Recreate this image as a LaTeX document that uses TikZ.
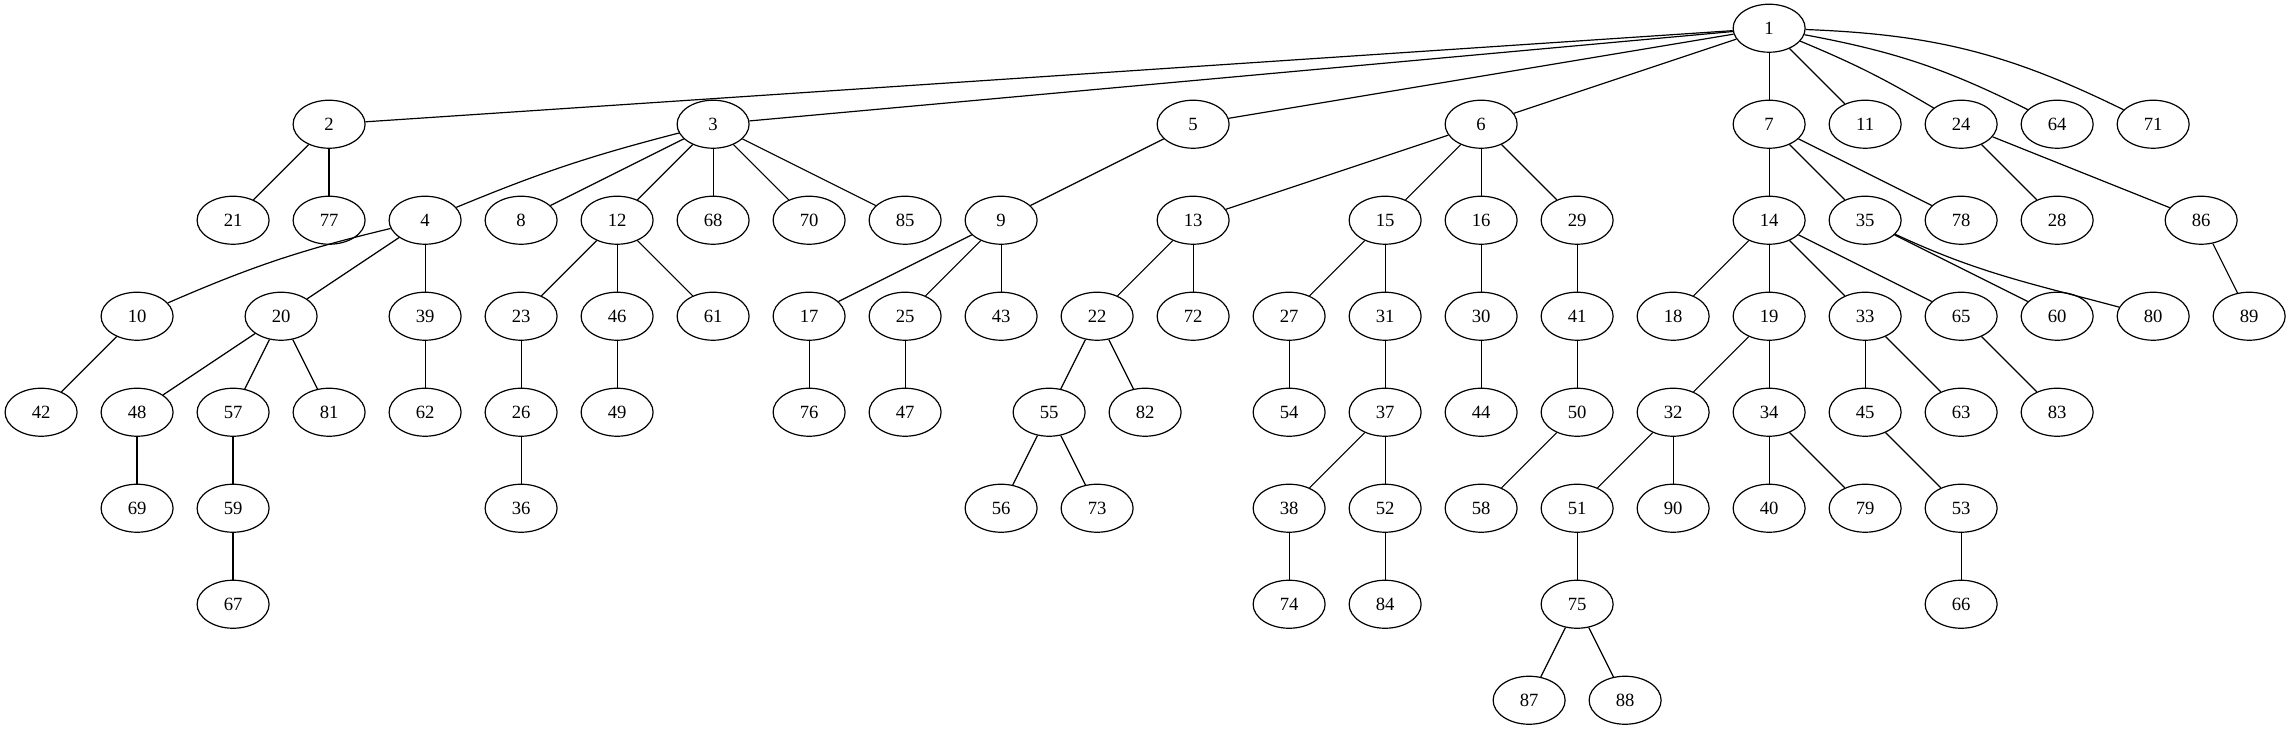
\documentclass[tikz,border=0pt]{standalone}
\usepackage{fontspec}
\setmainfont{Liberation Serif}
\usetikzlibrary{shapes.geometric}

\begin{document}
\begin{tikzpicture}[
  x=72pt, y=-72pt,
  every node/.style={inner sep=1pt, font=\fontsize{14pt}{16pt}\selectfont},
  vtx/.style={ellipse, draw, line width=0.9pt, minimum width=54pt, minimum height=36pt, inner sep=0pt},
  link/.style={draw, line width=0.9pt}]

  \useasboundingbox (-0.428,-0.294) rectangle (23.436,7.319);

  % ---- vertices -----------------------------------------------------------
  % rank 0
  \node[vtx] (n1)  at (18,0)   {1};

  % rank 1
  \node[vtx] (n2)  at (3,1)    {2};
  \node[vtx] (n3)  at (7,1)    {3};
  \node[vtx] (n5)  at (12,1)   {5};
  \node[vtx] (n6)  at (15,1)   {6};
  \node[vtx] (n7)  at (18,1)   {7};
  \node[vtx] (n11) at (19,1)   {11};
  \node[vtx] (n24) at (20,1)   {24};
  \node[vtx] (n64) at (21,1)   {64};
  \node[vtx] (n71) at (22,1)   {71};

  % rank 2
  \node[vtx] (n21) at (2,2)    {21};
  \node[vtx] (n77) at (3,2)    {77};
  \node[vtx] (n4)  at (4,2)    {4};
  \node[vtx] (n8)  at (5,2)    {8};
  \node[vtx] (n12) at (6,2)    {12};
  \node[vtx] (n68) at (7,2)    {68};
  \node[vtx] (n70) at (8,2)    {70};
  \node[vtx] (n85) at (9,2)    {85};
  \node[vtx] (n9)  at (10,2)   {9};
  \node[vtx] (n13) at (12,2)   {13};
  \node[vtx] (n15) at (14,2)   {15};
  \node[vtx] (n16) at (15,2)   {16};
  \node[vtx] (n29) at (16,2)   {29};
  \node[vtx] (n14) at (18,2)   {14};
  \node[vtx] (n35) at (19,2)   {35};
  \node[vtx] (n78) at (20,2)   {78};
  \node[vtx] (n28) at (21,2)   {28};
  \node[vtx] (n86) at (22.5,2) {86};

  % rank 3
  \node[vtx] (n10) at (1,3)    {10};
  \node[vtx] (n20) at (2.5,3)  {20};
  \node[vtx] (n39) at (4,3)    {39};
  \node[vtx] (n23) at (5,3)    {23};
  \node[vtx] (n46) at (6,3)    {46};
  \node[vtx] (n61) at (7,3)    {61};
  \node[vtx] (n17) at (8,3)    {17};
  \node[vtx] (n25) at (9,3)    {25};
  \node[vtx] (n43) at (10,3)   {43};
  \node[vtx] (n22) at (11,3)   {22};
  \node[vtx] (n72) at (12,3)   {72};
  \node[vtx] (n27) at (13,3)   {27};
  \node[vtx] (n31) at (14,3)   {31};
  \node[vtx] (n30) at (15,3)   {30};
  \node[vtx] (n41) at (16,3)   {41};
  \node[vtx] (n18) at (17,3)   {18};
  \node[vtx] (n19) at (18,3)   {19};
  \node[vtx] (n33) at (19,3)   {33};
  \node[vtx] (n65) at (20,3)   {65};
  \node[vtx] (n60) at (21,3)   {60};
  \node[vtx] (n80) at (22,3)   {80};
  \node[vtx] (n89) at (23,3)   {89};

  % rank 4
  \node[vtx] (n42) at (0,4)    {42};
  \node[vtx] (n48) at (1,4)    {48};
  \node[vtx] (n57) at (2,4)    {57};
  \node[vtx] (n81) at (3,4)    {81};
  \node[vtx] (n62) at (4,4)    {62};
  \node[vtx] (n26) at (5,4)    {26};
  \node[vtx] (n49) at (6,4)    {49};
  \node[vtx] (n76) at (8,4)    {76};
  \node[vtx] (n47) at (9,4)    {47};
  \node[vtx] (n55) at (10.5,4) {55};
  \node[vtx] (n82) at (11.5,4) {82};
  \node[vtx] (n54) at (13,4)   {54};
  \node[vtx] (n37) at (14,4)   {37};
  \node[vtx] (n44) at (15,4)   {44};
  \node[vtx] (n50) at (16,4)   {50};
  \node[vtx] (n32) at (17,4)   {32};
  \node[vtx] (n34) at (18,4)   {34};
  \node[vtx] (n45) at (19,4)   {45};
  \node[vtx] (n63) at (20,4)   {63};
  \node[vtx] (n83) at (21,4)   {83};

  % rank 5
  \node[vtx] (n69) at (1,5)    {69};
  \node[vtx] (n59) at (2,5)    {59};
  \node[vtx] (n36) at (5,5)    {36};
  \node[vtx] (n56) at (10,5)   {56};
  \node[vtx] (n73) at (11,5)   {73};
  \node[vtx] (n38) at (13,5)   {38};
  \node[vtx] (n52) at (14,5)   {52};
  \node[vtx] (n58) at (15,5)   {58};
  \node[vtx] (n51) at (16,5)   {51};
  \node[vtx] (n90) at (17,5)   {90};
  \node[vtx] (n40) at (18,5)   {40};
  \node[vtx] (n79) at (19,5)   {79};
  \node[vtx] (n53) at (20,5)   {53};

  % rank 6
  \node[vtx] (n67) at (2,6)    {67};
  \node[vtx] (n74) at (13,6)   {74};
  \node[vtx] (n84) at (14,6)   {84};
  \node[vtx] (n75) at (16,6)   {75};
  \node[vtx] (n66) at (20,6)   {66};

  % rank 7
  \node[vtx] (n87) at (15.5,7) {87};
  \node[vtx] (n88) at (16.5,7) {88};

  % ---- edges --------------------------------------------------------------
  % from the root
  \draw[link] (n1) -- (n2);
  \draw[link] (n1) -- (n3);
  \draw[link] (n1) -- (n5);
  \draw[link] (n1) -- (n6);
  \draw[link] (n1) -- (n7);
  \draw[link] (n1) -- (n11);
  \draw[link] (n1) to[bend left=4] (n24);
  \draw[link] (n1) to[bend left=8] (n64);
  \draw[link] (n1) to[bend left=12] (n71);

  % rank 1 to rank 2
  \draw[link] (n2) -- (n21);
  \draw[link] (n2) -- (n77);
  \draw[link] (n3) to[bend right=4] (n4);
  \draw[link] (n3) -- (n8);
  \draw[link] (n3) -- (n12);
  \draw[link] (n3) -- (n68);
  \draw[link] (n3) -- (n70);
  \draw[link] (n3) -- (n85);
  \draw[link] (n5) -- (n9);
  \draw[link] (n6) -- (n13);
  \draw[link] (n6) -- (n15);
  \draw[link] (n6) -- (n16);
  \draw[link] (n6) -- (n29);
  \draw[link] (n7) -- (n14);
  \draw[link] (n7) -- (n35);
  \draw[link] (n7) -- (n78);
  \draw[link] (n24) -- (n28);
  \draw[link] (n24) -- (n86);

  % rank 2 to rank 3
  \draw[link] (n4) to[bend right=5] (n10);
  \draw[link] (n4) -- (n20);
  \draw[link] (n4) -- (n39);
  \draw[link] (n12) -- (n23);
  \draw[link] (n12) -- (n46);
  \draw[link] (n12) -- (n61);
  \draw[link] (n9) -- (n17);
  \draw[link] (n9) -- (n25);
  \draw[link] (n9) -- (n43);
  \draw[link] (n13) -- (n22);
  \draw[link] (n13) -- (n72);
  \draw[link] (n15) -- (n27);
  \draw[link] (n15) -- (n31);
  \draw[link] (n16) -- (n30);
  \draw[link] (n29) -- (n41);
  \draw[link] (n14) -- (n18);
  \draw[link] (n14) -- (n19);
  \draw[link] (n14) -- (n33);
  \draw[link] (n14) -- (n65);
  \draw[link] (n35) -- (n60);
  \draw[link] (n35) to[out=-25,in=165] (n80);
  \draw[link] (n86) -- (n89);

  % rank 3 to rank 4
  \draw[link] (n10) -- (n42);
  \draw[link] (n20) -- (n48);
  \draw[link] (n20) -- (n57);
  \draw[link] (n20) -- (n81);
  \draw[link] (n39) -- (n62);
  \draw[link] (n23) -- (n26);
  \draw[link] (n46) -- (n49);
  \draw[link] (n17) -- (n76);
  \draw[link] (n25) -- (n47);
  \draw[link] (n22) -- (n55);
  \draw[link] (n22) -- (n82);
  \draw[link] (n27) -- (n54);
  \draw[link] (n31) -- (n37);
  \draw[link] (n30) -- (n44);
  \draw[link] (n41) -- (n50);
  \draw[link] (n19) -- (n32);
  \draw[link] (n19) -- (n34);
  \draw[link] (n33) -- (n45);
  \draw[link] (n33) -- (n63);
  \draw[link] (n65) -- (n83);

  % rank 4 and below
  \draw[link] (n48) -- (n69);
  \draw[link] (n57) -- (n59);
  \draw[link] (n26) -- (n36);
  \draw[link] (n55) -- (n56);
  \draw[link] (n55) -- (n73);
  \draw[link] (n37) -- (n38);
  \draw[link] (n37) -- (n52);
  \draw[link] (n50) -- (n58);
  \draw[link] (n32) -- (n51);
  \draw[link] (n32) -- (n90);
  \draw[link] (n34) -- (n40);
  \draw[link] (n34) -- (n79);
  \draw[link] (n45) -- (n53);
  \draw[link] (n59) -- (n67);
  \draw[link] (n38) -- (n74);
  \draw[link] (n52) -- (n84);
  \draw[link] (n51) -- (n75);
  \draw[link] (n75) -- (n87);
  \draw[link] (n75) -- (n88);
  \draw[link] (n53) -- (n66);
\end{tikzpicture}
\end{document}
